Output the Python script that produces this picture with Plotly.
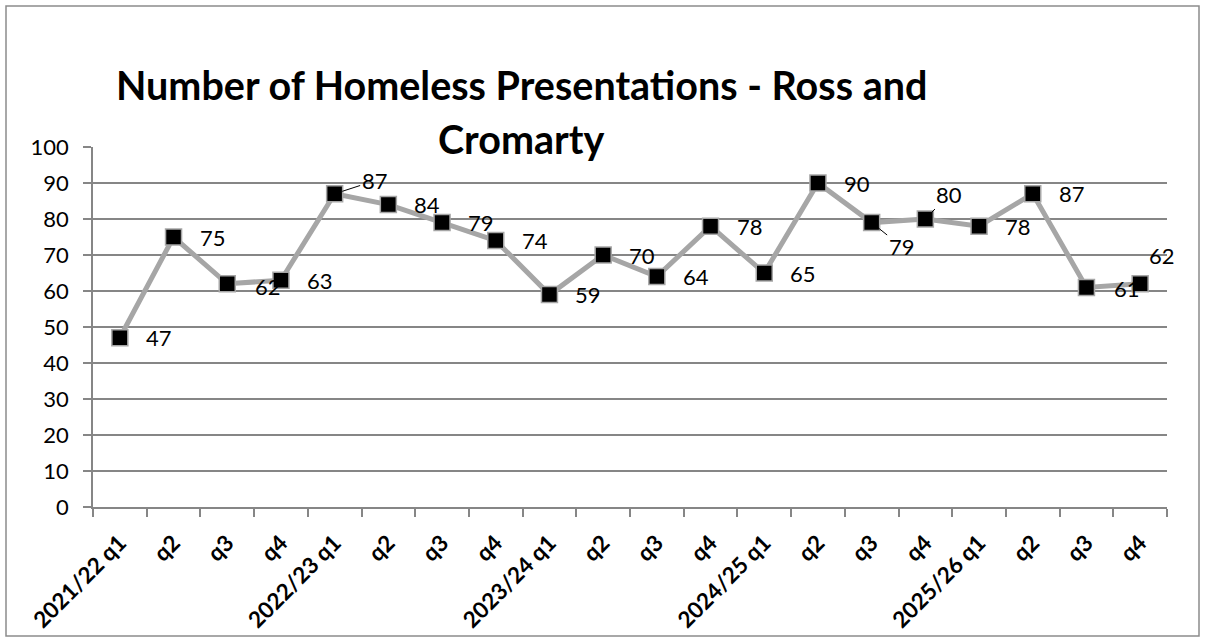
import plotly.graph_objects as go

categories = ["2021/22 q1", "q2 ", "q3 ", "q4 ", "2022/23 q1", "q2  ", "q3  ", "q4  ",
              "2023/24 q1", "q2   ", "q3   ", "q4   ", "2024/25 q1", "q2    ", "q3    ", "q4    ",
              "2025/26 q1", "q2     ", "q3     ", "q4     "]
tick_labels = ["2021/22 q1", "q2", "q3", "q4", "2022/23 q1", "q2", "q3", "q4",
               "2023/24 q1", "q2", "q3", "q4", "2024/25 q1", "q2", "q3", "q4",
               "2025/26 q1", "q2", "q3", "q4"]
values = [47, 75, 62, 63, 87, 84, 79, 74, 59, 70, 64, 78, 65, 90, 79, 80, 78, 87, 61, 62]

title_line1 = "Number of Homeless Presentations - Ross and"
title_line2 = "Cromarty"

FONT = "Lato"
W, H = 1205, 642
L, R, T, B = 93, 38, 147, 135
pw, ph = W - L - R, H - T - B

fig = go.Figure()
fig.add_trace(go.Scatter(
    x=categories, y=values, mode="lines+markers",
    line=dict(color="#A6A6A6", width=5),
    marker=dict(symbol="square", size=16, color="black",
                line=dict(color="#A6A6A6", width=1.5)),
    hoverinfo="x+y", showlegend=False, cliponaxis=False,
))

# label placement (pixel offsets): default right of point
special = {
    4: dict(ax=40, ay=-13),
    14: dict(ax=30, ay=24),
    15: dict(ax=24, ay=-25),
}
shift = {18: (26, -1), 19: (7, 28), 2: (26, -3)}
for i, (c, v) in enumerate(zip(categories, values)):
    if i in special:
        fig.add_annotation(x=c, y=v, text=str(v), showarrow=True, arrowhead=0,
                           arrowwidth=1, arrowcolor="black", standoff=8,
                           ax=special[i]["ax"], ay=special[i]["ay"],
                           font=dict(family=FONT, size=22, color="black"))
    else:
        xs, ys = shift.get(i, (24, 0))
        fig.add_annotation(x=c, y=v, text=str(v), showarrow=False,
                           xanchor="left", yanchor="middle", xshift=xs, yshift=ys,
                           font=dict(family=FONT, size=22, color="black"))

# titles
def px_x(p):
    return (p - L) / pw

def px_y(p):
    return (H - B - p) / ph

fig.add_annotation(xref="paper", yref="paper", x=px_x(521), y=px_y(85),
                   text="<b>" + title_line1 + "</b>", showarrow=False,
                   xanchor="center", yanchor="middle",
                   font=dict(family=FONT, size=39.5, color="black"))
fig.add_annotation(xref="paper", yref="paper", x=px_x(521), y=px_y(138),
                   text="<b>" + title_line2 + "</b>", showarrow=False,
                   xanchor="center", yanchor="middle",
                   font=dict(family=FONT, size=39.5, color="black"))

# outer border
fig.add_shape(type="rect", xref="paper", yref="paper",
              x0=px_x(6), x1=px_x(1199), y0=px_y(636), y1=px_y(6),
              line=dict(color="#8C8C8C", width=1.5), fillcolor="rgba(0,0,0,0)",
              layer="below")

fig.update_layout(
    width=W, height=H,
    margin=dict(l=L, r=R, t=T, b=B, autoexpand=False),
    plot_bgcolor="white", paper_bgcolor="white",
    font=dict(family=FONT, color="black"),
)
fig.update_xaxes(
    type="category", tickmode="array", tickvals=categories,
    ticktext=["<b>" + t + "</b>" for t in tick_labels],
    tickangle=-45, tickson="boundaries", ticks="outside", ticklen=8,
    tickcolor="#868686", tickwidth=1.5, automargin=False,
    showline=True, linecolor="#868686", linewidth=1.5,
    showgrid=False, tickfont=dict(family=FONT, size=22.5, color="black"),
    range=[-0.5, len(categories) - 0.5], ticklabelstandoff=12,
)
fig.update_yaxes(
    range=[0, 100], dtick=10, tick0=0, ticks="outside", ticklen=8,
    tickcolor="#868686", tickwidth=1.5, automargin=False,
    showline=True, linecolor="#868686", linewidth=1.5,
    showgrid=True, gridcolor="#868686", gridwidth=1.5,
    zeroline=False, tickfont=dict(family=FONT, size=22, color="black"),
    ticklabelstandoff=10,
)

fig.write_html("out.html", config={"displayModeBar": False},
               post_script="document.body.style.margin='0';document.body.style.overflow='hidden';")
